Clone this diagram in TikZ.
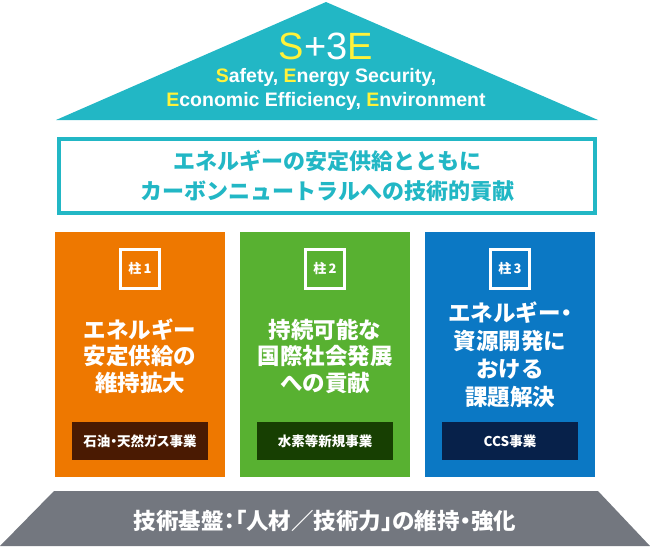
\documentclass[tikz,border=0pt]{standalone}
\usepackage{fontspec}
\setmainfont{Liberation Sans}
\newfontfamily\jp{Noto Sans CJK JP}
\newfontfamily\jpp{Noto Sans CJK JP}[CharacterWidth=AlternateProportional]
\definecolor{teal}{HTML}{22B7C5}
\definecolor{porange}{HTML}{EE7800}
\definecolor{pgreen}{HTML}{58B131}
\definecolor{pblue}{HTML}{0B78C4}
\definecolor{dbrown}{HTML}{4A1A02}
\definecolor{dgreen}{HTML}{173F02}
\definecolor{dnavy}{HTML}{07214A}
\definecolor{basegray}{HTML}{73777F}
\definecolor{yel}{HTML}{FFF23A}
\tikzset{
  pillar/.style={fill=#1, draw=none},
  tag/.style={draw=white, line width=3pt, minimum width=39pt, minimum height=39pt, text=white, font=\jp\bfseries\fontsize{13}{14}\selectfont, inner sep=0pt},
  ptext/.style={text=white, align=center, font=\jp\bfseries\fontsize{22.5}{26.5}\selectfont, inner sep=0pt},
  subbox/.style={fill=#1, minimum width=136pt, minimum height=38pt, text=white, font=\jpp\bfseries\fontsize{13.5}{15}\selectfont, inner sep=0pt},
}
\newcommand{\Y}[1]{\textcolor{yel}{#1}}
\begin{document}
\begin{tikzpicture}[x=1pt,y=-1pt]
\useasboundingbox (0,0) rectangle (650,546);
% roof
\fill[teal] (326,2) -- (598,120) -- (56,120) -- cycle;
\node[text=white, font=\fontsize{38}{40}\selectfont, inner sep=0pt] (s3e) at (326,46) {\Y{S}+3\Y{E}};
\node[text=white, font=\bfseries\fontsize{19.5}{24}\selectfont, align=center, inner sep=0pt] (s3etxt) at (326,89) {\Y{S}afety, \Y{E}nergy Security,\\\Y{E}conomic Efficiency, \Y{E}nvironment};
% white box
\node[draw=teal, line width=4pt, fill=white, minimum width=536pt, minimum height=74pt, inner sep=0pt, text=teal, align=center, font=\jp\bfseries\fontsize{22}{29.5}\selectfont] (mission) at (327,176) {エネルギーの安定供給とともに\\カーボンニュートラルへの技術的貢献};
% pillars
\fill[pillar=porange] (55,232) rectangle (225,477);
\fill[pillar=pgreen] (240,232) rectangle (410,477);
\fill[pillar=pblue] (425,232) rectangle (595,477);
\node[tag] (t1) at (140,269) {柱\,1};
\node[tag] (t2) at (325,269) {柱\,2};
\node[tag] (t3) at (510,269) {柱\,3};
\node[ptext] (p1) at (140,356) {エネルギー\\安定供給の\\維持拡大};
\node[ptext] (p2) at (325,356) {持続可能な\\国際社会発展\\への貢献};
\node[ptext, font=\jp\bfseries\fontsize{22.5}{28}\selectfont] (p3) at (510,355) {エネルギー{\jpp・}\\資源開発に\\おける\\課題解決};
\node[subbox=dbrown] (b1) at (140,441) {石油・天然ガス事業};
\node[subbox=dgreen] (b2) at (325,441) {水素等新規事業};
\node[subbox=dnavy] (b3) at (510,441) {CCS事業};
% base
\fill[basegray] (54,491) -- (598,491) -- (650,546) -- (0,546) -- cycle;
\node[text=white, font=\jpp\bfseries\fontsize{22.5}{24}\selectfont, inner sep=0pt] (base) at (325,521) {技術基盤：「人材／技術力」の維持・強化};
\end{tikzpicture}
\end{document}
